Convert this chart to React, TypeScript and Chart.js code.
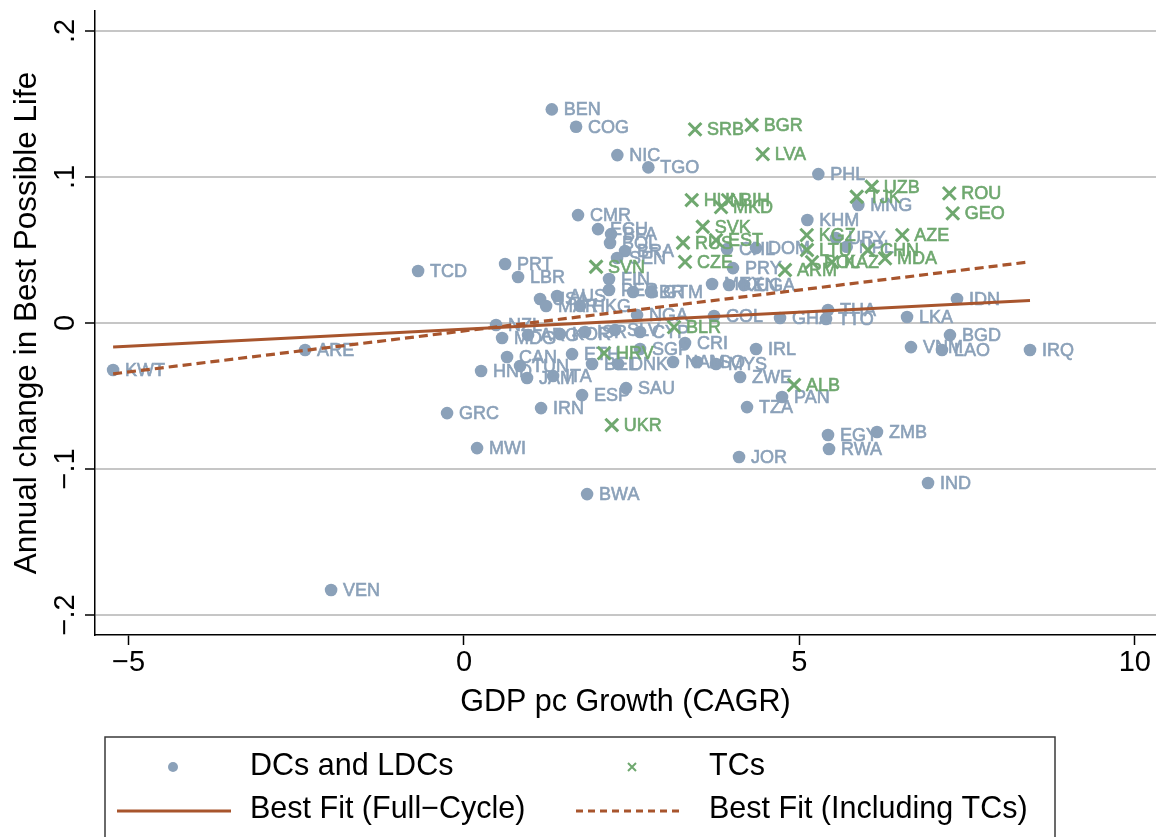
import React, { useEffect, useRef } from "react";
import { Chart, registerables } from "chart.js";

Chart.register(...registerables);

const FONT = '"Liberation Sans", Arial, Helvetica, sans-serif';
const DC_COLOR = "#8ba1b9";
const TC_COLOR = "#6fa86f";
const FIT_COLOR = "#a8552d";

// Developing / least developed countries
const dcCodes = [
  "BEN", "COG", "NIC", "TGO", "PHL", "MNG", "KHM", "URY", "NPL", "CMR",
  "ECU", "BFA", "BOL", "BRA", "SEN", "PRT", "LBR", "TCD", "PRY", "CHL",
  "DOM", "FIN", "PER", "GBR", "GTM", "MEX", "KEN", "UGA", "USA", "AUS",
  "MAR", "HKG", "NGA", "NZL", "MDG", "ARG", "KOR", "ISR", "SLV", "CYP",
  "COL", "GHA", "THA", "TTO", "CRI", "SGP", "CAN", "ETH", "HND", "TUN",
  "JAM", "ITA", "BEL", "DNK", "NAM", "LSO", "MYS", "ZWE", "IRL", "PAN",
  "TZA", "SAU", "ESP", "IRN", "GRC", "MWI", "BWA", "EGY", "RWA", "ZMB",
  "JOR", "IND", "IDN", "LKA", "BGD", "VNM", "LAO", "IRQ", "KWT", "ARE",
  "VEN",
];
const dcX = [
  1.309, 1.671, 2.286, 2.748, 5.282, 5.878, 5.118, 5.545, 5.705, 1.700,
  1.998, 2.192, 2.177, 2.401, 2.282, 0.613, 0.806, -0.684, 4.010, 3.921,
  4.353, 2.162, 2.162, 2.520, 2.788, 3.698, 3.951, 4.174, 1.134, 1.387,
  1.224, 1.730, 2.580, 0.478, 0.568, 0.955, 1.432, 1.805, 2.252, 2.624,
  3.727, 4.711, 5.426, 5.396, 3.295, 2.624, 0.642, 1.611, 0.255, 0.836,
  0.940, 1.328, 1.909, 2.297, 3.116, 3.474, 3.757, 4.115, 4.353, 4.741,
  4.219, 2.416, 1.760, 1.149, -0.252, 0.195, 1.835, 5.426, 5.441, 6.156,
  4.100, 6.917, 7.349, 6.604, 7.244, 6.663, 7.125, 8.437, -5.230, -2.368,
  -1.981,
];
const dcY = [
  0.1462, 0.1343, 0.1149, 0.1065, 0.1019, 0.0807, 0.0704, 0.0581, 0.0521, 0.0738,
  0.0642, 0.0608, 0.0547, 0.0492, 0.0444, 0.0403, 0.0314, 0.0355, 0.0375, 0.0505,
  0.0512, 0.0300, 0.0225, 0.0211, 0.0211, 0.0266, 0.0259, 0.0259, 0.0163, 0.0184,
  0.0115, 0.0115, 0.0053, -0.0015, -0.0104, -0.0084, -0.0077, -0.0063, -0.0049, -0.0063,
  0.0047, 0.0033, 0.0088, 0.0026, -0.0138, -0.0179, -0.0234, -0.0214, -0.0330, -0.0296,
  -0.0378, -0.0364, -0.0282, -0.0282, -0.0268, -0.0268, -0.0282, -0.0371, -0.0179, -0.0508,
  -0.0577, -0.0447, -0.0495, -0.0584, -0.0618, -0.0858, -0.1173, -0.0768, -0.0864, -0.0748,
  -0.0919, -0.1097, 0.0163, 0.0040, -0.0084, -0.0166, -0.0186, -0.0186, -0.0323, -0.0186,
  -0.1830,
];

// Transition countries
const tcCodes = [
  "SRB", "BGR", "LVA", "HUN", "BIH", "MKD", "UZB", "TJK", "ROU", "GEO",
  "AZE", "KGZ", "SVK", "RUS", "EST", "CZE", "SVN", "LTU", "POL", "KAZ",
  "ARM", "CHN", "MDA", "HRV", "BLR", "ALB", "UKR",
];
const tcX = [
  3.444, 4.289, 4.453, 3.395, 3.936, 3.832, 6.078, 5.854, 7.234, 7.285,
  6.533, 5.109, 3.559, 3.265, 3.757, 3.295, 1.969, 5.113, 5.188, 5.486,
  4.785, 6.022, 6.276, 2.088, 3.131, 4.920, 2.203,
];
const tcY = [
  0.1325, 0.1355, 0.1156, 0.0841, 0.0841, 0.0793, 0.0932, 0.0864, 0.0887, 0.0750,
  0.0601, 0.0601, 0.0658, 0.0549, 0.0567, 0.0418, 0.0384, 0.0499, 0.0416, 0.0416,
  0.0362, 0.0499, 0.0442, -0.0207, -0.0029, -0.0426, -0.0700,
];

// Fitted lines (end points)
const fitX = [-5.23, 8.437];
const fitFull = [-0.0166, 0.0153];
const fitIncl = [-0.0349, 0.0418];

const xTickValues = [-5, 0, 5, 10];
const xTickLabels = ["\u22125", "0", "5", "10"];
const yTickValues = [-0.2, -0.1, 0, 0.1, 0.2];
const yTickLabels = ["\u2212.2", "\u2212.1", "0", ".1", ".2"];
const legendLabels = [
  "DCs and LDCs",
  "TCs",
  "Best Fit (Full\u2212Cycle)",
  "Best Fit (Including TCs)",
];

const pointLabelPlugin = {
  id: "pointLabels",
  afterDatasetDraw(chart: any, args: any) {
    const ds = chart.data.datasets[args.index];
    if (!ds.codes) return;
    const ctx = chart.ctx;
    ctx.save();
    ctx.font = `18px ${FONT}`;
    ctx.fillStyle = ds.labelColor;
    ctx.strokeStyle = ds.labelColor;
    ctx.lineWidth = 0.6;
    ctx.textBaseline = "middle";
    ctx.textAlign = "left";
    args.meta.data.forEach((el: any, i: number) => {
      ctx.fillText(ds.codes[i], el.x + 12, el.y + 1);
      ctx.strokeText(ds.codes[i], el.x + 12, el.y + 1);
    });
    ctx.restore();
  },
};

const boxLegendPlugin = {
  id: "boxLegend",
  afterDraw(chart: any) {
    const ctx = chart.ctx;
    ctx.save();
    ctx.strokeStyle = "#3a3a3a";
    ctx.lineWidth = 1.5;
    ctx.strokeRect(105, 737, 950, 140);
    ctx.font = `30.5px ${FONT}`;
    ctx.textBaseline = "middle";
    ctx.textAlign = "left";
    // row 1
    ctx.fillStyle = DC_COLOR;
    ctx.beginPath();
    ctx.arc(173, 767, 5, 0, Math.PI * 2);
    ctx.fill();
    ctx.strokeStyle = TC_COLOR;
    ctx.lineWidth = 2;
    ctx.beginPath();
    ctx.moveTo(628, 763);
    ctx.lineTo(636, 771);
    ctx.moveTo(636, 763);
    ctx.lineTo(628, 771);
    ctx.stroke();
    ctx.fillStyle = "#000";
    ctx.fillText(legendLabels[0], 250, 767);
    ctx.fillText(legendLabels[1], 709, 767);
    // row 2
    ctx.strokeStyle = FIT_COLOR;
    ctx.lineWidth = 3;
    ctx.beginPath();
    ctx.moveTo(117, 811);
    ctx.lineTo(231, 811);
    ctx.stroke();
    ctx.setLineDash([7, 5]);
    ctx.beginPath();
    ctx.moveTo(576, 811);
    ctx.lineTo(681, 811);
    ctx.stroke();
    ctx.setLineDash([]);
    ctx.fillText(legendLabels[2], 250, 810);
    ctx.fillText(legendLabels[3], 709, 810);
    ctx.restore();
  },
};

function labelFor(values: number[], labels: string[], v: number) {
  const i = values.findIndex((t) => Math.abs(t - v) < 1e-9);
  return i >= 0 ? labels[i] : "";
}

export default function App() {
  const ref = useRef<HTMLCanvasElement | null>(null);

  useEffect(() => {
    document.body.style.margin = "0";
    const canvas = ref.current;
    if (!canvas) return;

    const dcData = dcX.map((x, i) => ({ x, y: dcY[i] }));
    const tcData = tcX.map((x, i) => ({ x, y: tcY[i] }));
    const fullData = fitX.map((x, i) => ({ x, y: fitFull[i] }));
    const inclData = fitX.map((x, i) => ({ x, y: fitIncl[i] }));

    const chart = new Chart(canvas, {
      type: "scatter",
      data: {
        datasets: [
          {
            label: legendLabels[2],
            data: fullData,
            showLine: true,
            borderColor: FIT_COLOR,
            borderWidth: 3,
            pointRadius: 0,
            order: 0,
          } as any,
          {
            label: legendLabels[3],
            data: inclData,
            showLine: true,
            borderColor: FIT_COLOR,
            borderWidth: 3.2,
            borderDash: [9, 5],
            pointRadius: 0,
            order: 0,
          } as any,
          {
            label: legendLabels[1],
            data: tcData,
            pointStyle: "crossRot",
            pointRadius: 9,
            pointBorderWidth: 3,
            borderColor: TC_COLOR,
            backgroundColor: TC_COLOR,
            codes: tcCodes,
            labelColor: TC_COLOR,
            order: 1,
          } as any,
          {
            label: legendLabels[0],
            data: dcData,
            pointStyle: "circle",
            pointRadius: 6.3,
            pointBorderWidth: 0,
            borderColor: DC_COLOR,
            backgroundColor: DC_COLOR,
            codes: dcCodes,
            labelColor: DC_COLOR,
            order: 2,
          } as any,
        ],
      },
      options: {
        animation: false,
        responsive: false,
        devicePixelRatio: 1,
        events: [],
        layout: { autoPadding: false, padding: { top: 11, right: 0, bottom: 0, left: 0 } },
        plugins: {
          legend: { display: false },
          tooltip: { enabled: false },
          title: { display: false },
        },
        scales: {
          x: {
            type: "linear",
            min: -5.5,
            max: 10.315,
            afterBuildTicks: (s: any) => {
              s.ticks = xTickValues.map((v) => ({ value: v }));
            },
            afterFit: (s: any) => {
              s.height = 202;
              s.paddingLeft = 0;
              s.paddingRight = 0;
            },
            grid: {
              drawOnChartArea: false,
              tickLength: 10,
              tickColor: "#000",
              tickWidth: 1.5,
            },
            border: { display: true, color: "#000", width: 1.5 },
            ticks: {
              autoSkip: false,
              maxRotation: 0,
              minRotation: 0,
              padding: 1,
              color: "#000",
              font: { family: FONT, size: 29 },
              callback: (v: any) => labelFor(xTickValues, xTickLabels, Number(v)),
            },
            title: {
              display: true,
              text: "GDP pc Growth (CAGR)",
              color: "#000",
              font: { family: FONT, size: 30.5 },
              padding: { top: 0, bottom: 116 },
            },
          },
          y: {
            type: "linear",
            min: -0.2138,
            max: 0.2136,
            afterBuildTicks: (s: any) => {
              s.ticks = yTickValues.map((v) => ({ value: v }));
            },
            afterFit: (s: any) => {
              s.width = 95;
              s.paddingTop = 0;
              s.paddingBottom = 0;
            },
            grid: {
              color: "#c6c6c6",
              lineWidth: 2,
              tickLength: 10,
              tickColor: "#000",
              tickWidth: 1.5,
            },
            border: { display: true, color: "#000", width: 1.5 },
            ticks: {
              autoSkip: false,
              minRotation: 90,
              maxRotation: 90,
              crossAlign: "center",
              padding: -2,
              color: "#000",
              font: { family: FONT, size: 29, lineHeight: 0.5 },
              callback: (v: any) => labelFor(yTickValues, yTickLabels, Number(v)),
            },
            title: {
              display: true,
              text: "Annual change in Best Possible Life",
              color: "#000",
              font: { family: FONT, size: 31.5 },
              padding: { top: 8, bottom: 0 },
            },
          },
        },
      } as any,
      plugins: [pointLabelPlugin, boxLegendPlugin],
    });

    return () => {
      chart.destroy();
    };
  }, []);

  return (
    <div style={{ width: 1156, height: 837, position: "relative", background: "#fff" }}>
      <canvas ref={ref} width={1156} height={837} style={{ display: "block" }} />
    </div>
  );
}
